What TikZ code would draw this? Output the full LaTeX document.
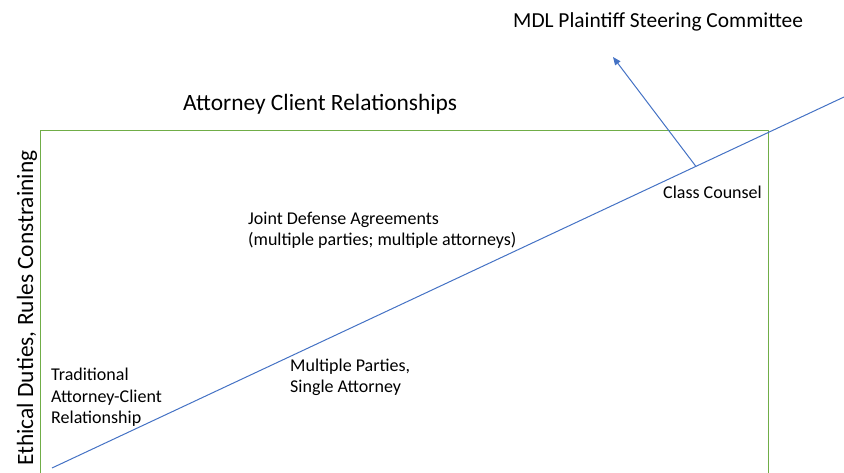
\documentclass[tikz,border=0pt]{standalone}
\usepackage{fontspec}
\setmainfont{Carlito}
\usetikzlibrary{arrows.meta,calc}

\definecolor{framegreen}{RGB}{112,173,71}
\definecolor{lineblue}{RGB}{68,114,196}

\begin{document}
\begin{tikzpicture}[>={Triangle[length=8bp,width=6.5bp]},line join=bevel,
  txt/.style={inner sep=0pt,align=left,font=\fontsize{18bp}{21.5bp}\selectfont},
  head/.style={inner sep=0pt,font=\fontsize{23.4bp}{27bp}\selectfont},
]
%
  \useasboundingbox (0bp,0bp) rectangle (844bp,473bp);
  \draw [draw=framegreen,line width=1bp] (40.5bp,-2bp) -- (40.5bp,342.5bp) -- (768.5bp,342.5bp) -- (768.5bp,-2bp);
  \coordinate (lo) at (52bp,5bp);
  \coordinate (hi) at (844bp,376bp);
  \coordinate (mdltip) at (613bp,416bp);
  \draw [lineblue,line width=1bp] (lo) -- (hi);
  \draw [->,lineblue,line width=1bp] ($(lo)!0.813!(hi)$) -- (mdltip);
  \node (mdl) at (513bp,445bp) [head,anchor=base west,font=\fontsize{21.4bp}{25bp}\selectfont] {MDL Plaintiff Steering Committee};
  \node (acr) at (183bp,362bp) [head,anchor=base west] {Attorney Client Relationships};
  \node (ethics) at (33bp,7bp) [head,anchor=base west,rotate=90] {Ethical Duties, Rules Constraining};
  \node (trad) at (51bp,49bp) [txt,anchor=base west] {Traditional\\Attorney-Client\\Relationship};
  \node (mpsa) at (290bp,80bp) [txt,anchor=base west] {Multiple Parties,\\Single Attorney};
  \node (jda) at (248bp,227bp) [txt,anchor=base west] {Joint Defense Agreements\\(multiple parties; multiple attorneys)};
  \node (cc) at (663bp,274bp) [txt,anchor=base west] {Class Counsel};
%
\end{tikzpicture}
\end{document}
